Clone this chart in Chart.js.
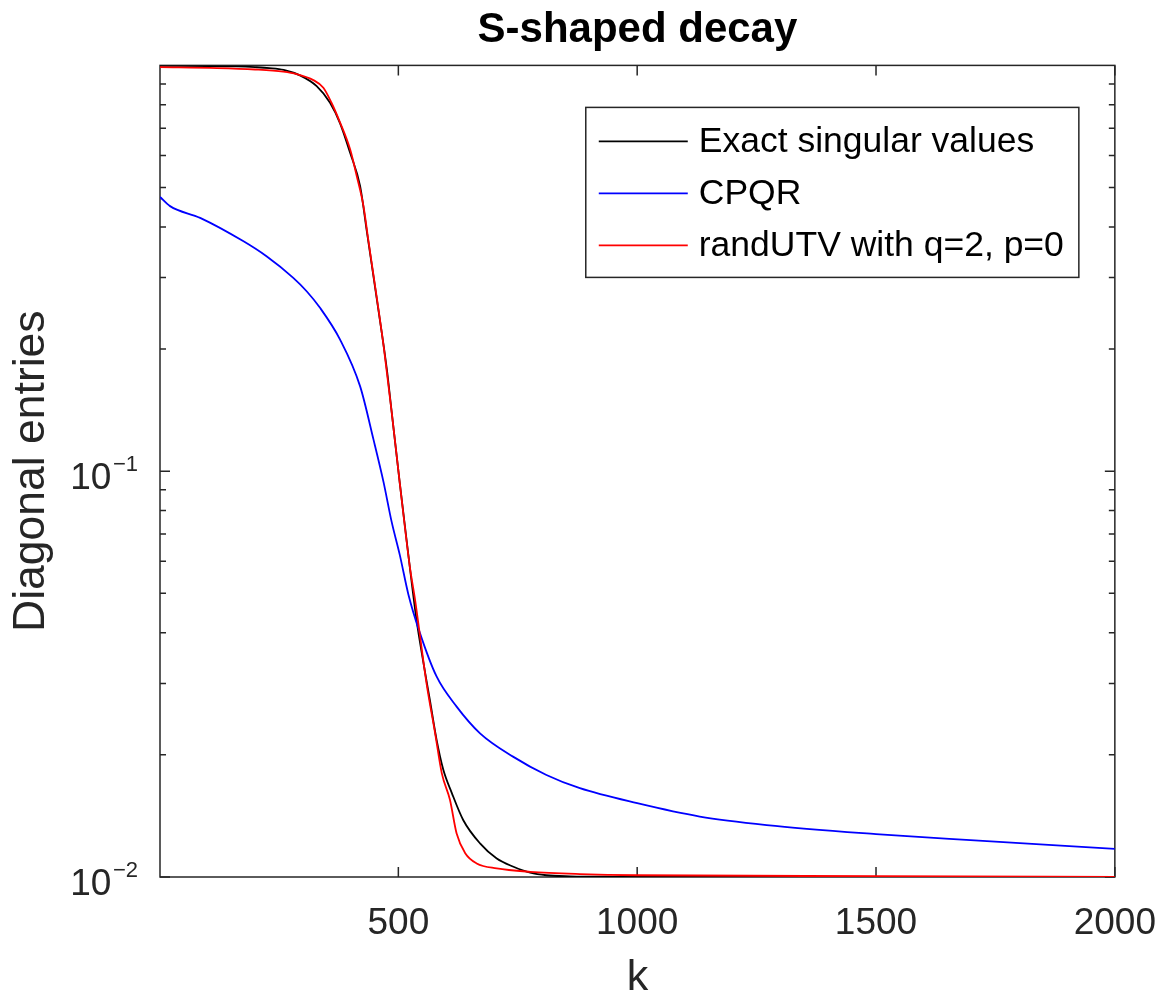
<!DOCTYPE html>
<html>
<head>
<meta charset="utf-8">
<title>S-shaped decay</title>
<script src="https://cdn.jsdelivr.net/npm/chart.js@4.4.0/dist/chart.umd.min.js"></script>
<style>
  html, body { margin: 0; padding: 0; background: #fff; }
  #wrap { width: 1163px; height: 995px; }
</style>
</head>
<body>
<div id="wrap"><canvas id="decayChart" width="1163" height="995"></canvas></div>
<script>
// values (k index, diagonal entry)
let exactK    = [1, 100, 160, 200, 230, 260, 294, 329, 357, 378, 399, 420, 434, 455, 476, 486, 503, 524, 538, 552, 566, 580, 594, 612, 636, 671, 706, 741, 776, 810, 860, 950, 1100, 2000];
let exactVals = [0.997, 0.996, 0.994, 0.99, 0.985, 0.975, 0.945, 0.889, 0.809, 0.72, 0.609, 0.504, 0.39, 0.265, 0.178, 0.14, 0.0935, 0.058, 0.043, 0.034, 0.0273, 0.0218, 0.0184, 0.0161, 0.0138, 0.0121, 0.0111, 0.0106, 0.01025, 0.0101, 0.01004, 0.01001, 0.01, 0.01];

let cpqrK    = [1, 22, 85, 175, 224, 280, 308, 336, 378, 420, 448, 469, 486, 503, 521, 544, 580, 622, 671, 740, 810, 880, 1000, 1131, 1271, 1500, 1689, 2000];
let cpqrVals = [0.474, 0.45, 0.421, 0.369, 0.3385, 0.2995, 0.2776, 0.2527, 0.211, 0.1618, 0.1196, 0.094, 0.075, 0.0622, 0.0497, 0.0403, 0.0312, 0.0263, 0.0226, 0.0198, 0.01784, 0.01655, 0.0152, 0.01409, 0.01343, 0.01276, 0.01234, 0.01173];

let utvK    = [1, 120, 200, 259, 287, 322, 343, 360, 378, 399, 413, 427, 437, 455, 470, 486, 503, 524, 535, 559, 577, 591, 608, 622, 640, 664, 706, 776, 880, 1000, 1500, 2000];
let utvVals = [0.99, 0.985, 0.977, 0.965, 0.952, 0.92, 0.881, 0.809, 0.723, 0.621, 0.533, 0.45, 0.372, 0.267, 0.2, 0.14, 0.0935, 0.0582, 0.0482, 0.030, 0.0226, 0.018, 0.0155, 0.0128, 0.01144, 0.0108, 0.0105, 0.0103, 0.01017, 0.0101, 0.01005, 0.01];

let seriesNames = ["Exact singular values", "CPQR", "randUTV with q=2, p=0"];
let xTickValues = [500, 1000, 1500, 2000];
let yTickValues = [0.01, 0.1];
let yMinorValues = [0.02, 0.03, 0.04, 0.05, 0.06, 0.07, 0.08, 0.09, 0.2, 0.3, 0.4, 0.5, 0.6, 0.7, 0.8, 0.9];

const axisColor = '#262626';
const fontFam = '"Liberation Sans", Arial, Helvetica, sans-serif';
Chart.defaults.font.family = fontFam;

function toPoints(ks, vals) {
    return ks.map((k, i) => ({ x: k, y: vals[i] }));
}

// matlab style box, inward ticks, legend and 10^n labels
const matlabAxes = {
    id: 'matlabAxes',
    beforeDatasetsDraw(chart) {
        const { ctx, chartArea: a, scales: { x, y } } = chart;
        ctx.save();
        ctx.strokeStyle = axisColor;
        ctx.lineWidth = 1.5;
        ctx.strokeRect(a.left, a.top, a.right - a.left, a.bottom - a.top);
        ctx.beginPath();
        xTickValues.forEach(v => {
            const px = x.getPixelForValue(v);
            ctx.moveTo(px, a.bottom); ctx.lineTo(px, a.bottom - 10);
            ctx.moveTo(px, a.top); ctx.lineTo(px, a.top + 10);
        });
        yTickValues.forEach(v => {
            const py = y.getPixelForValue(v);
            ctx.moveTo(a.left, py); ctx.lineTo(a.left + 10, py);
            ctx.moveTo(a.right, py); ctx.lineTo(a.right - 10, py);
        });
        yMinorValues.forEach(v => {
            const py = y.getPixelForValue(v);
            ctx.moveTo(a.left, py); ctx.lineTo(a.left + 6, py);
            ctx.moveTo(a.right, py); ctx.lineTo(a.right - 6, py);
        });
        ctx.stroke();
        ctx.restore();
    },
    afterDatasetsDraw(chart) {
        const { ctx, chartArea: a } = chart;
        const sets = chart.data.datasets;
        ctx.save();
        ctx.font = '35.5px ' + fontFam;
        const textW = Math.max(...sets.map(d => ctx.measureText(d.label).width));
        const padL = 13, lineLen = 89, gap = 11, padR = 15, rowH = 52;
        const w = padL + lineLen + gap + textW + padR;
        const h = 170;
        const right = a.right - 36, top = a.top + 42, left = right - w;
        ctx.fillStyle = '#fff';
        ctx.fillRect(left, top, w, h);
        ctx.strokeStyle = axisColor;
        ctx.lineWidth = 1.5;
        ctx.strokeRect(left, top, w, h);
        sets.forEach((d, i) => {
            const cy = top + 34 + i * rowH;
            ctx.beginPath();
            ctx.strokeStyle = d.borderColor;
            ctx.lineWidth = d.borderWidth;
            ctx.moveTo(left + padL, cy);
            ctx.lineTo(left + padL + lineLen, cy);
            ctx.stroke();
            ctx.fillStyle = '#000';
            ctx.textAlign = 'left';
            ctx.textBaseline = 'middle';
            ctx.fillText(d.label, left + padL + lineLen + gap, cy + 1);
        });
        ctx.restore();
    },
    afterDraw(chart) {
        const { ctx, chartArea: a, scales: { y } } = chart;
        ctx.save();
        ctx.fillStyle = axisColor;
        ctx.textAlign = 'right';
        ctx.textBaseline = 'middle';
        yTickValues.forEach(v => {
            const py = y.getPixelForValue(v);
            const e = Math.round(Math.log10(v));
            const sup = (e < 0 ? '\u2212' : '') + Math.abs(e);
            const supRight = a.left - 22;
            ctx.font = '22px ' + fontFam;
            ctx.fillText(sup, supRight, py - 6);
            const supW = ctx.measureText(sup).width;
            ctx.font = '37px ' + fontFam;
            ctx.fillText('10', supRight - supW - 1.5, py + 8);
        });
        ctx.restore();
    }
};

const ctx = document.getElementById('decayChart');
const decay = new Chart(ctx, {
    type: 'line',
    data: {
        datasets: [
            {
                label: seriesNames[0],
                data: toPoints(exactK, exactVals),
                borderColor: '#000000',
                borderWidth: 1.8,
                order: 3
            },
            {
                label: seriesNames[1],
                data: toPoints(cpqrK, cpqrVals),
                borderColor: '#0000ff',
                borderWidth: 1.8,
                order: 2
            },
            {
                label: seriesNames[2],
                data: toPoints(utvK, utvVals),
                borderColor: '#ff0000',
                borderWidth: 1.8,
                order: 1
            }
        ]
    },
    options: {
        responsive: false,
        animation: false,
        devicePixelRatio: 1,
        elements: {
            point: { radius: 0 },
            line: { fill: false, cubicInterpolationMode: 'monotone' }
        },
        layout: { padding: { left: 0, right: 48, top: 0, bottom: 0 } },
        plugins: {
            legend: { display: false },
            tooltip: { enabled: false },
            title: {
                display: true,
                fullSize: false,
                text: 'S-shaped decay',
                color: '#000',
                font: { size: 42, weight: 'bold', lineHeight: 1.2 },
                padding: { top: 5, bottom: 10 }
            }
        },
        scales: {
            x: {
                type: 'linear',
                min: 1,
                max: 2000,
                afterBuildTicks: s => { s.ticks = xTickValues.map(v => ({ value: v })); },
                afterFit: s => { s.height = 118; },
                grid: { display: false, drawTicks: true, tickLength: 18 },
                border: { display: false },
                ticks: {
                    color: axisColor,
                    font: { size: 37 },
                    padding: 7,
                    maxRotation: 0,
                    autoSkip: false,
                    callback: v => String(v)
                },
                title: {
                    display: true,
                    text: 'k',
                    color: axisColor,
                    font: { size: 43, lineHeight: 0.7 },
                    padding: { top: 0, bottom: 2 }
                }
            },
            y: {
                type: 'logarithmic',
                min: 0.01,
                max: 1,
                afterBuildTicks: s => { s.ticks = yTickValues.map(v => ({ value: v })); },
                afterFit: s => { s.width = 160; },
                grid: { display: false },
                border: { display: false },
                ticks: { display: false },
                title: {
                    display: true,
                    text: 'Diagonal entries',
                    color: axisColor,
                    font: { size: 44.5 },
                    padding: { top: 5, bottom: 0 }
                }
            }
        }
    },
    plugins: [matlabAxes]
});
</script>
</body>
</html>
